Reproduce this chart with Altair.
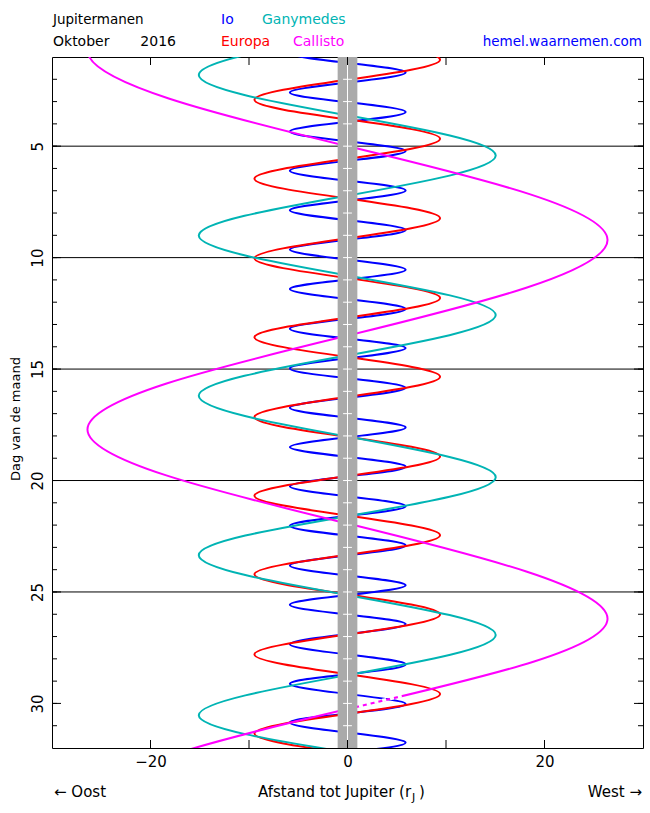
import altair as alt
import pandas as pd

# ---------------- data ----------------
MOONS = ["Io", "Europa", "Ganymedes", "Callisto"]
COLORS = ["#0000ff", "#ff0000", "#00b4b4", "#ff00ff"]

# turning points (day of month, distance in Jupiter radii; + = west) and
# the days the moon passes Jupiter's centre line (distance 0)
io_turn_day = [0.82, 1.70, 2.59, 3.47, 4.34, 5.22, 6.10, 6.99, 7.88, 8.76, 9.64, 10.54,
               11.41, 12.30, 13.19, 14.06, 14.97, 15.84, 16.74, 17.62, 18.50, 19.38, 20.26, 21.15,
               22.03, 22.91, 23.81, 24.70, 25.57, 26.44, 27.34, 28.25, 29.12, 30.03, 30.86, 31.76]
io_turn_x = [-5.85, 5.90, -5.85, 5.90, -5.85, 5.90, -5.85, 5.90, -5.85, 5.90, -5.85, 5.90,
             -5.85, 5.90, -5.85, 5.90, -5.85, 5.90, -5.85, 5.90, -5.85, 5.90, -5.85, 5.90,
             -5.85, 5.90, -5.85, 5.90, -5.85, 5.90, -5.85, 5.90, -5.85, 5.90, -5.85, 5.90]
io_cross_day = [0.38, 1.26, 2.15, 3.03, 3.91, 4.78, 5.66, 6.55, 7.44, 8.32, 9.20, 10.09,
                10.98, 11.86, 12.75, 13.63, 14.52, 15.41, 16.29, 17.18, 18.06, 18.94, 19.82, 20.71,
                21.59, 22.47, 23.36, 24.26, 25.14, 26.01, 26.89, 27.80, 28.69, 29.58, 30.45, 31.31, 32.20]

europa_turn_day = [1.12, 2.92, 4.67, 6.46, 8.23, 10.03, 11.81, 13.57, 15.34,
                   17.15, 18.92, 20.68, 22.45, 24.21, 26.01, 27.80, 29.58, 31.35]
europa_turn_x = [9.40, -9.45, 9.40, -9.45, 9.40, -9.45, 9.40, -9.45, 9.40,
                 -9.45, 9.40, -9.45, 9.40, -9.45, 9.40, -9.45, 9.40, -9.45]
europa_cross_day = [0.23, 2.02, 3.80, 5.57, 7.35, 9.13, 10.92, 12.69, 14.46, 16.25,
                    18.04, 19.80, 21.57, 23.33, 25.11, 26.91, 28.69, 30.47, 32.24]

ganymedes_turn_day = [1.81, 5.42, 9.01, 12.58, 16.20, 19.85, 23.35, 26.93, 30.53]
ganymedes_turn_x = [-15.10, 15.05, -15.10, 15.05, -15.10, 15.05, -15.10, 15.05, -15.10]
ganymedes_cross_day = [0.02, 3.62, 7.22, 10.80, 14.39, 18.03, 21.60, 25.14, 28.73, 32.20]

callisto_turn_day = [0.71, 9.21, 17.71, 26.20, 34.50]
callisto_turn_x = [-26.40, 26.40, -26.40, 26.40, -26.40]
callisto_cross_day = [-3.54, 5.00, 13.50, 21.93, 30.25, 38.75]

# dashed stretch of Callisto's track (day, distance) at its ends
callisto_dash_day = [29.66, 30.14]
callisto_dash_x = [5.5, 1.0]

# axes
x_label_values = [-20, 0, 20]
x_tick_values = [-20, -10, 0, 10, 20]
y_label_values = [5, 10, 15, 20, 25, 30]
y_minor_days = list(range(2, 32))
y_major_days = [5, 10, 15, 20, 25, 30]
grid_days = [5, 10, 15, 20, 25]
jupiter_mark_days = list(range(2, 32))

# ---------------- build tables ----------------
rows = []
series = {
    "Io": (io_turn_day, io_turn_x, io_cross_day),
    "Europa": (europa_turn_day, europa_turn_x, europa_cross_day),
    "Ganymedes": (ganymedes_turn_day, ganymedes_turn_x, ganymedes_cross_day),
    "Callisto": (callisto_turn_day, callisto_turn_x, callisto_cross_day),
}
for moon in MOONS:
    tday, tx, cday = series[moon]
    pts = [(d, v) for d, v in zip(tday, tx)] + [(d, 0.0) for d in cday]
    pts.sort()
    for i, (d, v) in enumerate(pts):
        rows.append({"moon": moon, "day": d, "x": v, "seq": i})
orbit_df = pd.DataFrame(rows)

W, H = 591, 691
FONT = "DejaVu Sans"
JUP_R = 1.0
JUP_MARK = 0.45

x_scale = alt.Scale(domain=[-30, 30], nice=False, zero=False)
y_scale = alt.Scale(domain=[1, 32], reverse=True, nice=False, zero=False)
x_axis = alt.Axis(values=x_label_values, title=None, ticks=False, domain=False, grid=False,
                  labelFont=FONT, labelFontSize=15, labelPadding=6, labelColor="black",
                  labelFlush=False)
y_axis = alt.Axis(values=y_label_values, title=None, ticks=False, domain=False, grid=False,
                  labelFont=FONT, labelFontSize=15, labelPadding=7, labelColor="black",
                  labelAngle=270, labelAlign="center", labelBaseline="bottom", labelFlush=False)


def X(field):
    return alt.X(field, type="quantitative", scale=x_scale, axis=x_axis)


def Y(field):
    return alt.Y(field, type="quantitative", scale=y_scale, axis=y_axis)


grid = alt.Chart(pd.DataFrame({"day": grid_days})).mark_rule(
    color="black", strokeWidth=1).encode(y=Y("day"))

lines = alt.Chart(orbit_df).mark_line(
    interpolate="natural", strokeWidth=2, clip=True).encode(
    x=X("x"),
    y=Y("day"),
    color=alt.Color("moon:N", scale=alt.Scale(domain=MOONS, range=COLORS), legend=None),
    detail="moon:N",
    order=alt.Order("seq:Q"),
)

dash = alt.Chart(pd.DataFrame({"day": callisto_dash_day, "x": callisto_dash_x})).mark_line(
    color="white", strokeWidth=3.5, strokeDash=[4, 4], strokeCap="butt").encode(
    x=X("x"), y=Y("day"), order=alt.Order("day:Q"))

band = alt.Chart(pd.DataFrame({"x": [-JUP_R], "x2": [JUP_R]})).mark_rect(
    color="#aaaaaa").encode(x=X("x"), x2="x2:Q", y=alt.value(0), y2=alt.value(H))

center = alt.Chart(pd.DataFrame({"x": [0.0]})).mark_rule(
    color="white", strokeWidth=1).encode(x=X("x"), y=alt.value(0), y2=alt.value(H))

jmarks = alt.Chart(pd.DataFrame({"day": jupiter_mark_days,
                                 "xa": [-JUP_MARK] * len(jupiter_mark_days),
                                 "xb": [JUP_MARK] * len(jupiter_mark_days)})).mark_rule(
    color="white", strokeWidth=1).encode(y=Y("day"), x=X("xa"), x2="xb:Q")

minor_df = pd.DataFrame({"day": y_minor_days})
major_df = pd.DataFrame({"day": y_major_days})
xt_df = pd.DataFrame({"x": x_tick_values})
ticks = [
    alt.Chart(minor_df).mark_rule(color="black").encode(y=Y("day"), x=alt.value(0), x2=alt.value(5)),
    alt.Chart(minor_df).mark_rule(color="black").encode(y=Y("day"), x=alt.value(W - 5), x2=alt.value(W)),
    alt.Chart(major_df).mark_rule(color="black").encode(y=Y("day"), x=alt.value(0), x2=alt.value(9)),
    alt.Chart(major_df).mark_rule(color="black").encode(y=Y("day"), x=alt.value(W - 9), x2=alt.value(W)),
    alt.Chart(xt_df).mark_rule(color="black").encode(x=X("x"), y=alt.value(0), y2=alt.value(8)),
    alt.Chart(xt_df).mark_rule(color="black").encode(x=X("x"), y=alt.value(H - 8), y2=alt.value(H)),
]

dummy = pd.DataFrame({"k": [0]})


def label(text, x, y, color="black", align="left", size=14, angle=0, baseline="alphabetic"):
    return alt.Chart(dummy).mark_text(
        text=text, align=align, baseline=baseline, font=FONT, fontSize=size,
        color=color, angle=angle).encode(x=alt.value(x), y=alt.value(y))


texts = [
    label("Jupitermanen", 1, -33, size=13.5),
    label("Oktober", 1, -11),
    label("2016", 124, -11, align="right"),
    label("Io", 169, -33, color=COLORS[0]),
    label("Ganymedes", 210, -33, color=COLORS[2]),
    label("Europa", 169, -11, color=COLORS[1]),
    label("Callisto", 241, -11, color=COLORS[3]),
    label("hemel.waarnemen.com", 590, -11, color="#0000ff", align="right", size=13.5),
    label("Dag van de maand", -32, 362, align="center", angle=270, size=13),
    label("\u2190 Oost", 2, 740, size=15),
    label("Afstand tot Jupiter (r", 206, 740, size=15),
    label("J", 360, 744, size=11),
    label(")", 367, 740, size=15),
    label("West \u2192", 590, 740, align="right", size=15),
]

chart = alt.layer(grid, lines, dash, band, center, jmarks, *ticks, *texts).properties(
    width=W, height=H,
    padding={"left": 52, "top": 57, "right": 7, "bottom": 65},
    autosize=alt.AutoSizeParams(type="none"),
    background="white",
).configure_view(stroke="black", strokeWidth=1)

chart.save("out.html", embed_options={"renderer": "svg", "actions": False})
